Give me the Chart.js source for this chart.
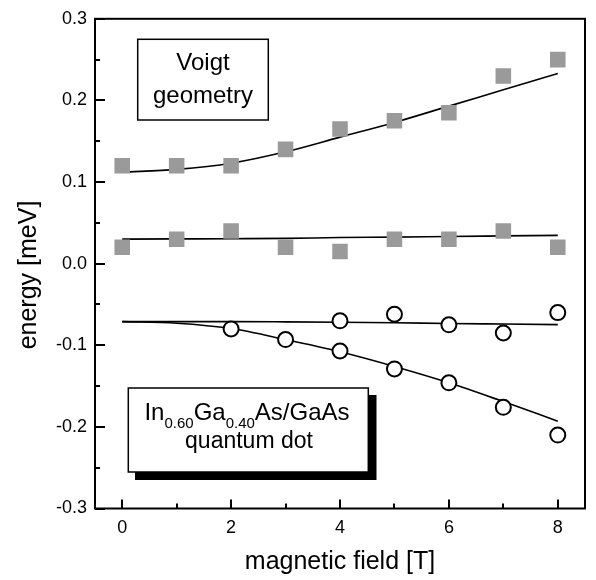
<!DOCTYPE html>
<html><head><meta charset="utf-8">
<script src="https://cdn.jsdelivr.net/npm/chart.js@4.4.1/dist/chart.umd.min.js"></script>
<style>html,body{margin:0;padding:0;background:#fff;}canvas{display:block;}</style>
</head><body>
<canvas id="c" width="596" height="580"></canvas>
<script>
// ---- data ----
const voigtField = [0, 1, 2, 3, 4, 5, 6, 7, 8];
const voigtUpper = [0.12, 0.12, 0.12, 0.14, 0.165, 0.175, 0.185, 0.23, 0.25];
const voigtLower = [0.02, 0.03, 0.04, 0.02, 0.015, 0.03, 0.03, 0.04, 0.02];
const dotUpperField = [4, 5, 6, 7, 8];
const dotUpper = [-0.07, -0.062, -0.075, -0.085, -0.06];
const dotLowerField = [2, 3, 4, 5, 6, 7, 8];
const dotLower = [-0.08, -0.093, -0.107, -0.129, -0.146, -0.176, -0.21];
const fitField = [0, 1, 2, 3, 4, 5, 6, 7, 8];
const fitVoigtUpper = [0.112, 0.1155, 0.123, 0.137, 0.155, 0.173, 0.193, 0.213, 0.233];
const fitVoigtLower = [0.030, 0.0303, 0.0306, 0.031, 0.032, 0.0325, 0.0333, 0.034, 0.0347];
const fitDotUpper = [-0.071, -0.071, -0.071, -0.0713, -0.0718, -0.0725, -0.0733, -0.074, -0.0747];
const fitDotLower = [-0.071, -0.073, -0.0795, -0.093, -0.108, -0.126, -0.146, -0.169, -0.193];
const xTicks = [0, 1, 2, 3, 4, 5, 6, 7, 8];
const yTicks = [-0.3, -0.25, -0.2, -0.15, -0.1, -0.05, 0, 0.05, 0.1, 0.15, 0.2, 0.25, 0.3];
const xTitle = 'magnetic field [T]';
const yTitle = 'energy [meV]';

const FONT = "'Liberation Sans', Arial, Helvetica, sans-serif";
const pts = (xs, ys) => xs.map((v, i) => ({x: v, y: ys[i]}));

const fitStyle = {showLine: true, pointRadius: 0, borderColor: '#000', borderWidth: 1.6,
  cubicInterpolationMode: 'monotone', fill: false, order: 2};
const squareStyle = {pointStyle: 'rect', pointRadius: 11, backgroundColor: '#9a9a9a',
  borderWidth: 0, order: 1};
const circleStyle = {pointStyle: 'circle', pointRadius: 7.5, backgroundColor: '#fff',
  borderColor: '#000', borderWidth: 2, order: 1};

const decor = {
  id: 'decor',
  afterDatasetsDraw(chart) {
    const {ctx, chartArea: a, scales: {x, y}} = chart;
    ctx.save();
    // frame
    ctx.strokeStyle = '#000';
    ctx.lineWidth = 2;
    ctx.strokeRect(a.left, a.top, a.right - a.left, a.bottom - a.top);
    // inward ticks
    ctx.beginPath();
    xTicks.forEach(v => {
      const px = Math.round(x.getPixelForValue(v));
      const len = v % 2 === 0 ? 9 : 5;
      ctx.moveTo(px, a.bottom); ctx.lineTo(px, a.bottom - len);
    });
    yTicks.forEach(v => {
      const py = Math.round(y.getPixelForValue(v));
      const major = Math.abs(Math.round(v * 100)) % 10 === 0;
      ctx.moveTo(a.left, py); ctx.lineTo(a.left + (major ? 10 : 5), py);
    });
    ctx.stroke();

    // y axis title
    ctx.save();
    ctx.fillStyle = '#000';
    ctx.font = '25px ' + FONT;
    ctx.textAlign = 'center';
    ctx.textBaseline = 'middle';
    ctx.translate(29, 275);
    ctx.rotate(-Math.PI / 2);
    ctx.fillText(yTitle, 0, 0);
    ctx.restore();

    // Voigt box
    ctx.lineWidth = 1.5;
    ctx.fillStyle = '#fff';
    ctx.fillRect(137.7, 39.3, 130.6, 80.7);
    ctx.strokeRect(137.7, 39.3, 130.6, 80.7);
    ctx.fillStyle = '#000';
    ctx.font = '24px ' + FONT;
    ctx.textAlign = 'center';
    ctx.textBaseline = 'alphabetic';
    ctx.fillText('Voigt', 203, 70);
    ctx.fillText('geometry', 203, 103);

    // quantum dot box with shadow
    ctx.fillStyle = '#000';
    ctx.fillRect(135, 395, 241.5, 85);
    ctx.fillStyle = '#fff';
    ctx.fillRect(128.3, 388, 240, 84);
    ctx.strokeRect(128.3, 388, 240, 84);
    ctx.fillStyle = '#000';
    const parts = [['In', 0], ['0.60', 1], ['Ga', 0], ['0.40', 1], ['As/GaAs', 0]];
    const mainF = '24px ' + FONT, subF = '15px ' + FONT;
    let total = 0;
    parts.forEach(p => { ctx.font = p[1] ? subF : mainF; total += ctx.measureText(p[0]).width; });
    let cx = 247 - total / 2;
    ctx.textAlign = 'left';
    parts.forEach(p => {
      ctx.font = p[1] ? subF : mainF;
      ctx.fillText(p[0], cx, p[1] ? 427.5 : 419.5);
      cx += ctx.measureText(p[0]).width;
    });
    ctx.textAlign = 'center';
    ctx.font = '23px ' + FONT;
    ctx.fillText('quantum dot', 249, 447.5);
    ctx.restore();
  }
};

new Chart(document.getElementById('c'), {
  type: 'scatter',
  data: {
    datasets: [
      Object.assign({label: 'fit Voigt upper', data: pts(fitField, fitVoigtUpper)}, fitStyle),
      Object.assign({label: 'fit Voigt lower', data: pts(fitField, fitVoigtLower)}, fitStyle),
      Object.assign({label: 'fit dot upper', data: pts(fitField, fitDotUpper)}, fitStyle),
      Object.assign({label: 'fit dot lower', data: pts(fitField, fitDotLower)}, fitStyle),
      Object.assign({label: 'Voigt upper', data: pts(voigtField, voigtUpper)}, squareStyle),
      Object.assign({label: 'Voigt lower', data: pts(voigtField, voigtLower)}, squareStyle),
      Object.assign({label: 'dot upper', data: pts(dotUpperField, dotUpper)}, circleStyle),
      Object.assign({label: 'dot lower', data: pts(dotLowerField, dotLower)}, circleStyle)
    ]
  },
  options: {
    responsive: false,
    animation: false,
    events: [],
    layout: {padding: {top: 13.5, right: 4.3, left: 0, bottom: 0}},
    plugins: {legend: {display: false}, tooltip: {enabled: false}},
    scales: {
      x: {
        type: 'linear', position: 'bottom', min: -0.5, max: 8.5,
        afterBuildTicks: s => { s.ticks = xTicks.map(v => ({value: v})); },
        afterFit: s => { s.height = 71.5; },
        grid: {display: false, drawTicks: false},
        border: {display: false},
        ticks: {
          autoSkip: false, maxRotation: 0, padding: 9, color: '#000',
          font: {family: FONT, size: 18},
          callback: v => (v % 2 === 0 ? String(v) : '')
        },
        title: {display: true, text: xTitle, color: '#000',
          font: {family: FONT, size: 25}, padding: {top: 0, bottom: 3}}
      },
      y: {
        type: 'linear', position: 'left', min: -0.3, max: 0.3,
        afterBuildTicks: s => { s.ticks = yTicks.map(v => ({value: v})); },
        afterFit: s => { s.width = 95; },
        grid: {display: false, drawTicks: false},
        border: {display: false},
        ticks: {
          autoSkip: false, padding: 8, color: '#000',
          font: {family: FONT, size: 18},
          callback: v => { const k = Math.round(v * 100); return k % 10 === 0 ? (k / 100).toFixed(1) : ''; }
        },
        title: {display: false, text: yTitle}
      }
    }
  },
  plugins: [decor]
});
</script>
</body></html>
